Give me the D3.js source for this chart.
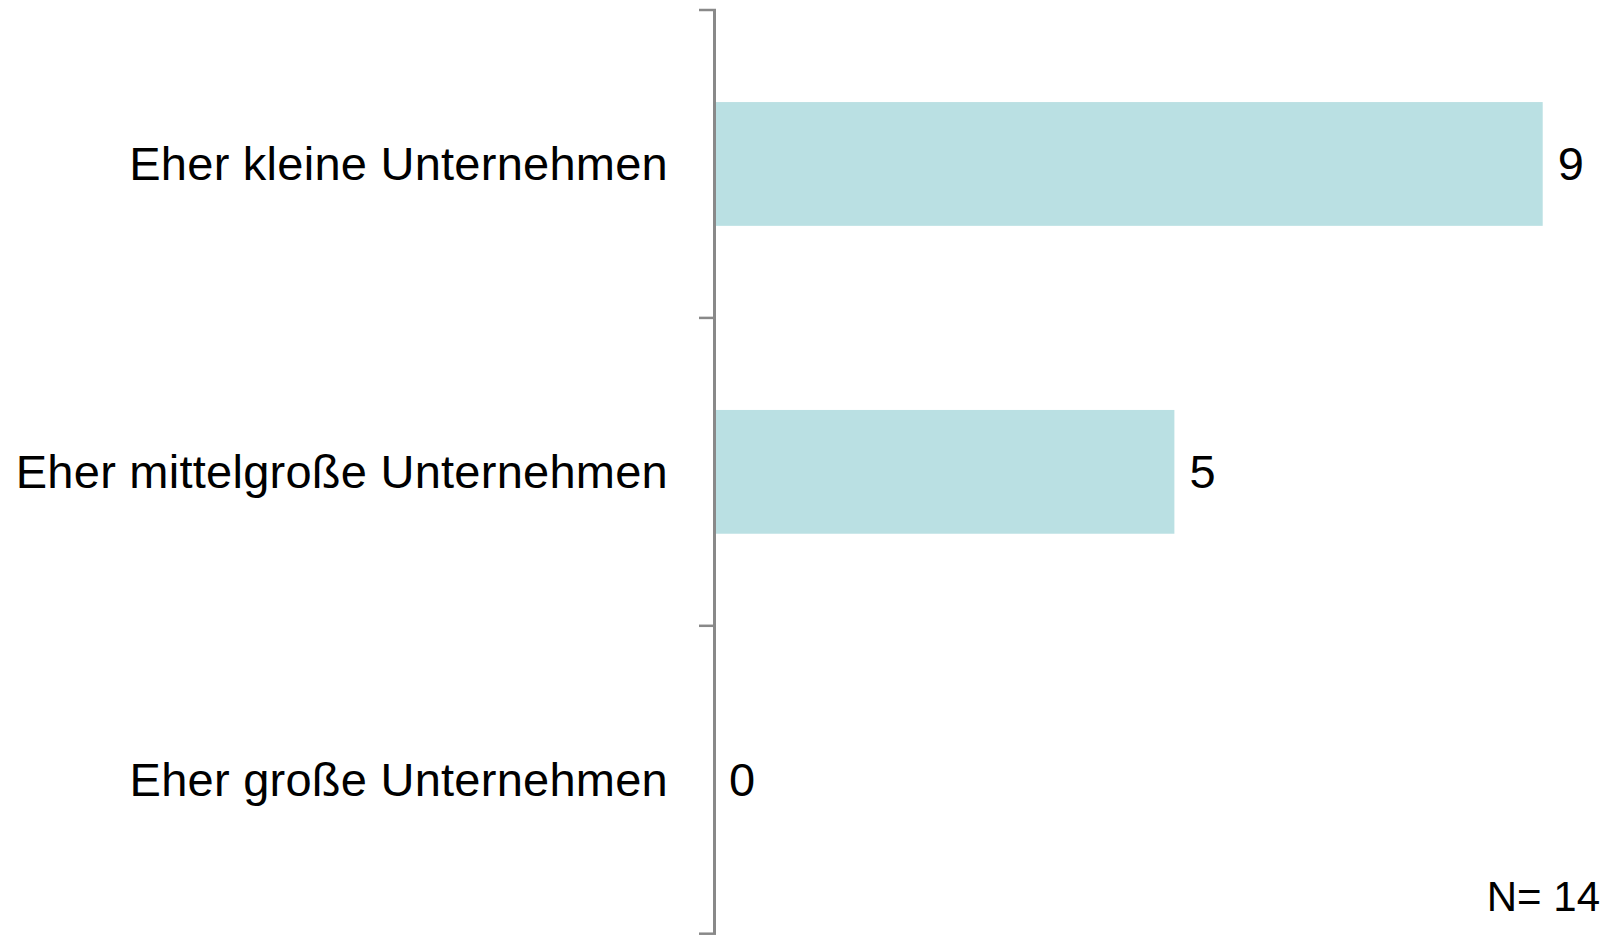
<!DOCTYPE html>
<html>
<head>
<meta charset="utf-8">
<script src="https://cdn.jsdelivr.net/npm/d3@7"></script>
<style>
  html, body { margin: 0; padding: 0; background: #ffffff; }
  svg { display: block; }
  text { font-family: "Liberation Sans", Arial, sans-serif; fill: #000000; }
</style>
</head>
<body>
<svg id="chart" width="1607" height="935"></svg>
<script>
// Categories and counts (horizontal bar chart)
const categories = [
  "Eher kleine Unternehmen",
  "Eher mittelgroße Unternehmen",
  "Eher große Unternehmen"
];
const values = [9, 5, 0];
const sampleNote = "N= 14";

const axisX = 714;
const plotTop = 10, plotBottom = 933.7;

const svg = d3.select("#chart");

const y = d3.scaleBand()
  .domain(categories)
  .range([plotTop, plotBottom])
  .paddingInner(0)
  .paddingOuter(0);

const x = d3.scaleLinear()
  .domain([0, 9])
  .range([axisX, 1542.7]);

const barH = y.bandwidth() * 0.402;
const barColor = "#bae0e3";
const axisColor = "#898989";

// Bars
svg.append("g")
  .selectAll("rect")
  .data(values)
  .join("rect")
  .attr("x", x(0))
  .attr("y", (d, i) => y(categories[i]) + (y.bandwidth() - barH) / 2)
  .attr("width", d => x(d) - x(0))
  .attr("height", barH)
  .attr("fill", barColor);

// Category axis with tick marks at band boundaries
const axisG = svg.append("g");
axisG.append("line")
  .attr("x1", axisX + 0.5).attr("x2", axisX + 0.5)
  .attr("y1", plotTop).attr("y2", plotBottom)
  .attr("stroke", axisColor).attr("stroke-width", 3);

const boundaries = categories.map(c => y(c)).concat([y(categories[categories.length - 1]) + y.bandwidth()]);
axisG.selectAll("line.tick")
  .data(boundaries)
  .join("line")
  .attr("class", "tick")
  .attr("x1", axisX - 15).attr("x2", axisX + 2)
  .attr("y1", d => d).attr("y2", d => d)
  .attr("stroke", axisColor).attr("stroke-width", 2.5);

// Category labels
svg.append("g")
  .selectAll("text")
  .data(categories)
  .join("text")
  .attr("x", 668)
  .attr("y", d => y(d) + y.bandwidth() / 2 + 16)
  .attr("text-anchor", "end")
  .attr("font-size", 47)
  .attr("letter-spacing", 0.25)
  .text(d => d);

// Value labels
svg.append("g")
  .selectAll("text")
  .data(values)
  .join("text")
  .attr("x", d => x(d) + 15)
  .attr("y", (d, i) => y(categories[i]) + y.bandwidth() / 2 + 16)
  .attr("font-size", 47)
  .text(d => d);

// Sample size note
svg.append("text")
  .attr("x", 1600)
  .attr("y", 910.7)
  .attr("text-anchor", "end")
  .attr("font-size", 42)
  .text(sampleNote);
</script>
</body>
</html>
